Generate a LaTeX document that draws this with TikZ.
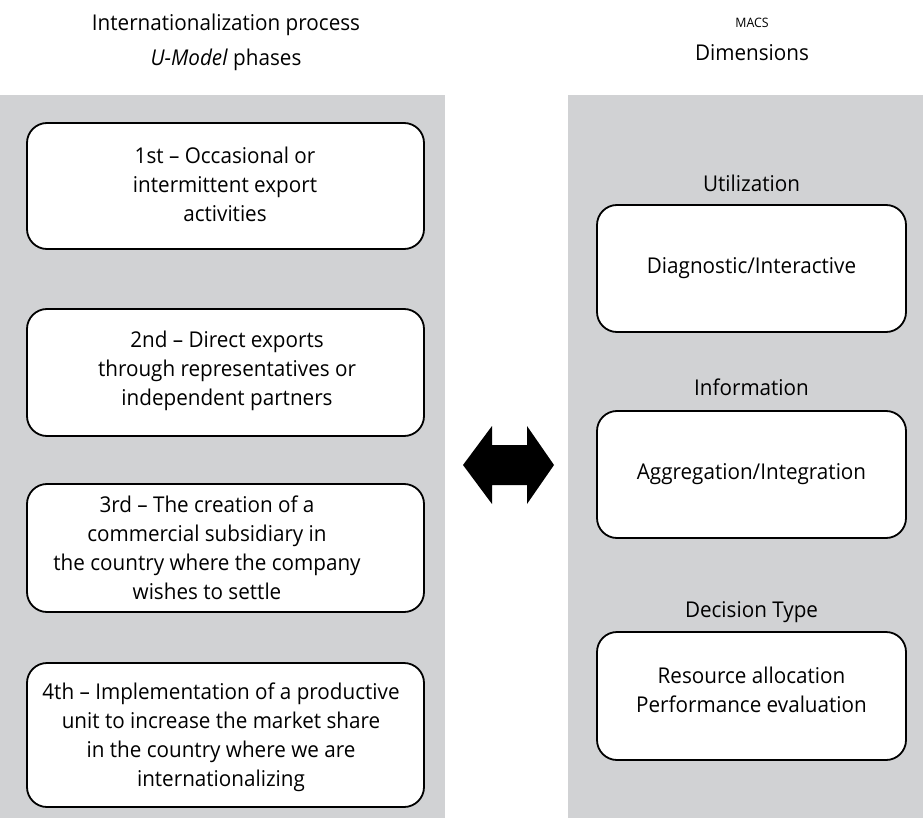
\documentclass[tikz,border=0pt]{standalone}
\usepackage{fontspec}
\setmainfont{Open Sans}[FakeStretch=0.95]
\definecolor{panelgray}{RGB}{209,210,212}
\begin{document}
\begin{tikzpicture}[x=1pt,y=-1pt,
  panel/.style={fill=panelgray,draw=none},
  phasebox/.style={draw=black,line width=1.8pt,fill=white,rounded corners=20pt,
     minimum width=397pt,inner sep=0pt},
  dimbox/.style={draw=black,line width=1.8pt,fill=white,rounded corners=20pt,
     minimum width=309pt,minimum height=127pt,inner sep=0pt},
  txt/.style={align=center,font=\fontsize{21.75}{29}\selectfont,inner sep=0pt},
  head/.style={align=center,font=\fontsize{21.75}{35}\selectfont,inner sep=0pt},
  small/.style={font=\fontsize{13}{15}\selectfont,inner sep=0pt}]
\useasboundingbox (0,0) rectangle (923,818);
% panels
\fill[panel] (0,95) rectangle (445,818);
\fill[panel] (568,95) rectangle (923,818);
% headers
\node[head] (lhead) at (226,42) {Internationalization process\\\textit{U-Model} phases};
\node[small] (macs) at (752,23) {MACS};
\node[head] (dims) at (752,53) {Dimensions};
% phase boxes
\node[phasebox,minimum height=126pt] (p1) at (225.5,186) {};
\node[txt] at (225,184) {1st -- Occasional or\\intermittent export\\activities};
\node[phasebox,minimum height=127pt] (p2) at (225.5,372.5) {};
\node[txt] at (227,371) {2nd -- Direct exports\\through representatives or\\independent partners};
\node[phasebox,minimum height=128pt] (p3) at (225.5,548) {};
\node[txt] at (207,548) {3rd -- The creation of a\\commercial subsidiary in\\the country where the company\\wishes to settle};
\node[phasebox,minimum height=144pt] (p4) at (225.5,735) {};
\node[txt] at (221,737) {4th -- Implementation of a productive\\unit to increase the market share\\in the country where we are\\internationalizing};
% dimension boxes
\node[txt] (l1) at (751.5,183) {Utilization};
\node[dimbox] (d1) at (751.5,268.5) {};
\node[txt] at (751.5,268) {Diagnostic/Interactive};
\node[txt] (l2) at (751.5,387) {Information};
\node[dimbox] (d2) at (751.5,474.5) {};
\node[txt] at (751.5,474) {Aggregation/Integration};
\node[txt] (l3) at (751.5,612) {Decision Type};
\node[dimbox,minimum height=128pt] (d3) at (751.5,696) {};
\node[txt] at (751.5,690) {Resource allocation\\Performance evaluation};
% double arrow
\fill[black] (463,465) -- (492,426) -- (492,445) -- (527,445) -- (527,426) -- (554,465)
  -- (527,504) -- (527,485) -- (492,485) -- (492,504) -- cycle;
\end{tikzpicture}
\end{document}
